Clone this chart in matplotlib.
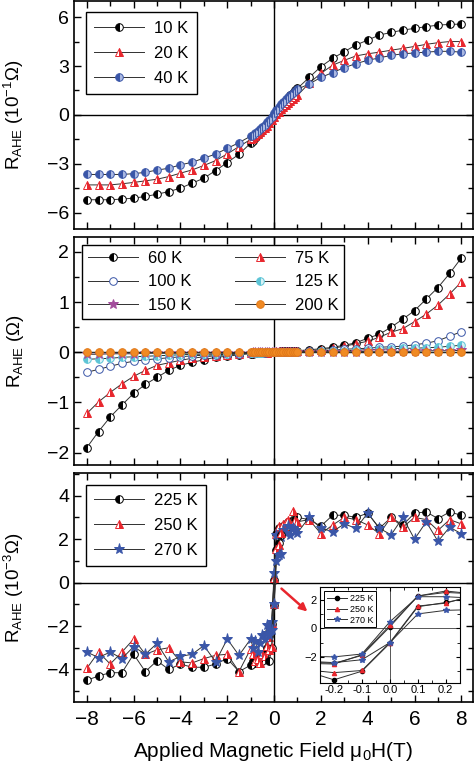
import numpy as np
import matplotlib
matplotlib.use("Agg")
import matplotlib.pyplot as plt
from matplotlib.ticker import MultipleLocator

plt.rcParams["font.family"] = ["Liberation Sans", "DejaVu Sans"]
plt.rcParams["mathtext.fontset"] = "custom"
plt.rcParams["mathtext.rm"] = "Liberation Sans"
plt.rcParams["mathtext.it"] = "Liberation Sans:italic"

# field values (T) shared by all three panels
FIELD = [-8.0, -7.5, -7.0, -6.5, -6.0, -5.5, -5.0, -4.5, -4.0, -3.5, -3.0, -2.5, -2.0, -1.5,
         -1.0, -0.9, -0.8, -0.7, -0.6, -0.5, -0.4, -0.3, -0.2, -0.1, 0.0,
         0.1, 0.2, 0.3, 0.4, 0.5, 0.6, 0.7, 0.8, 0.9, 1.0,
         1.5, 2.0, 2.5, 3.0, 3.5, 4.0, 4.5, 5.0, 5.5, 6.0, 6.5, 7.0, 7.5, 8.0]

# top panel, units of 0.1 ohm
R_10K = [-5.2, -5.2, -5.2, -5.16, -5.1, -5.0, -4.86, -4.7, -4.49, -4.18, -3.88, -3.41, -2.92, -2.41,
         -1.73, -1.58, -1.42, -1.26, -1.1, -0.93, -0.76, -0.58, -0.4, -0.22, 0.0,
         0.2, 0.38, 0.55, 0.72, 0.88, 1.04, 1.2, 1.35, 1.5, 1.63,
         2.3, 2.96, 3.47, 3.88, 4.29, 4.59, 4.9, 5.06, 5.2, 5.31, 5.41, 5.51, 5.55, 5.57]
R_20K = [-4.29, -4.29, -4.29, -4.22, -4.14, -4.04, -3.94, -3.78, -3.57, -3.37, -3.1, -2.8, -2.39, -1.94,
         -1.5, -1.4, -1.3, -1.18, -1.06, -0.94, -0.8, -0.66, -0.5, -0.34, -0.15,
         0.05, 0.2, 0.35, 0.5, 0.63, 0.76, 0.88, 1.0, 1.1, 1.2,
         1.95, 2.55, 3.05, 3.35, 3.62, 3.75, 3.85, 3.97, 4.08, 4.2, 4.33, 4.43, 4.5, 4.5]
R_40K = [-3.65, -3.65, -3.65, -3.65, -3.6, -3.52, -3.38, -3.27, -3.06, -2.9, -2.65, -2.4, -2.05, -1.7,
         -1.3, -1.2, -1.1, -1.0, -0.88, -0.76, -0.62, -0.46, -0.3, -0.12, 0.1,
         0.3, 0.48, 0.65, 0.8, 0.95, 1.1, 1.24, 1.37, 1.48, 1.58,
         1.9, 2.3, 2.6, 2.9, 3.15, 3.35, 3.5, 3.65, 3.75, 3.8, 3.85, 3.9, 3.9, 3.85]

# middle panel, ohm
R_60K = [-1.9, -1.58, -1.29, -1.05, -0.82, -0.64, -0.5, -0.36, -0.26, -0.2, -0.15, -0.1, -0.08, -0.05,
         -0.03, -0.03, -0.02, -0.02, -0.02, -0.02, -0.01, -0.01, -0.01, 0.0, 0.0,
         0.01, 0.01, 0.02, 0.02, 0.02, 0.02, 0.02, 0.02, 0.03, 0.03,
         0.05, 0.07, 0.1, 0.14, 0.19, 0.28, 0.36, 0.5, 0.66, 0.83, 1.06, 1.29, 1.57, 1.88]
R_75K = [-1.22, -0.99, -0.8, -0.63, -0.48, -0.36, -0.26, -0.21, -0.16, -0.12, -0.09, -0.07, -0.05, -0.03,
         -0.02, -0.02, -0.02, -0.02, -0.01, -0.01, -0.01, -0.01, 0.0, 0.0, 0.0,
         0.02, 0.02, 0.03, 0.03, 0.03, 0.03, 0.03, 0.03, 0.03, 0.03,
         0.03, 0.05, 0.08, 0.12, 0.17, 0.22, 0.3, 0.4, 0.47, 0.61, 0.76, 0.94, 1.16, 1.4]
R_100K = [-0.4, -0.34, -0.28, -0.22, -0.18, -0.15, -0.13, -0.11, -0.09, -0.07, -0.06, -0.05, -0.04, -0.03,
          -0.02, -0.02, -0.02, -0.01, -0.01, -0.01, -0.01, 0.0, 0.0, 0.0, 0.0,
          0.0, 0.0, 0.0, 0.01, 0.01, 0.01, 0.01, 0.01, 0.01, 0.01,
          0.02, 0.03, 0.04, 0.06, 0.07, 0.08, 0.1, 0.11, 0.12, 0.15, 0.18, 0.23, 0.32, 0.41]
R_125K = [-0.14, -0.13, -0.12, -0.1, -0.09, -0.08, -0.07, -0.06, -0.05, -0.04, -0.04, -0.03, -0.03, -0.02,
          -0.02, -0.01, -0.01, -0.01, -0.01, -0.01, 0.0, 0.0, 0.0, 0.0, 0.0,
          0.0, 0.0, 0.0, 0.0, 0.01, 0.01, 0.01, 0.01, 0.01, 0.01,
          0.01, 0.02, 0.02, 0.03, 0.04, 0.05, 0.06, 0.07, 0.08, 0.08, 0.09, 0.1, 0.12, 0.14]
R_150K = [-0.04, -0.04, -0.03, -0.03, -0.03, -0.02, -0.02, -0.02, -0.02, -0.01, -0.01, -0.01, -0.01, -0.01,
          -0.01, 0.0, 0.0, 0.0, 0.0, 0.0, 0.0, 0.0, 0.0, 0.0, 0.0,
          0.0, 0.0, 0.0, 0.0, 0.0, 0.0, 0.0, 0.0, 0.0, 0.01,
          0.01, 0.01, 0.01, 0.01, 0.01, 0.02, 0.02, 0.02, 0.02, 0.02, 0.03, 0.03, 0.03, 0.04]
R_200K = [0.0, 0.0, 0.0, 0.0, 0.0, 0.0, 0.0, 0.0, 0.0, 0.0, 0.0, 0.0, 0.0, 0.0,
          0.0, 0.0, 0.0, 0.0, 0.0, 0.0, 0.0, 0.0, 0.0, 0.0, 0.0,
          0.0, 0.0, 0.0, 0.0, 0.0, 0.0, 0.0, 0.0, 0.0, 0.0,
          0.0, 0.0, 0.0, 0.0, 0.0, 0.0, 0.0, 0.0, 0.0, 0.0, 0.0, 0.0, 0.0, 0.0]

# bottom panel, units of 1e-3 ohm
R_225K = [-4.5, -4.3, -4.15, -4.15, -3.3, -4.1, -3.6, -4.0, -3.75, -3.9, -3.9, -3.75, -3.5, -4.1,
          -3.8, -3.6, -3.7, -3.5, -3.4, -3.6, -3.3, -2.35, -2.45, -1.9, 0.1,
          2.25, 2.5, 2.4, 2.6, 2.7, 2.8, 2.6, 2.9, 2.7, 3.0,
          2.9, 2.6, 3.1, 3.1, 3.0, 3.2, 2.5, 3.0, 2.65, 3.2, 3.25, 2.95, 3.25, 3.1]
R_250K = [-3.95, -3.2, -3.75, -3.2, -2.6, -3.3, -3.1, -3.0, -3.65, -3.7, -3.5, -3.35, -3.3, -4.1,
          -3.05, -3.3, -3.6, -3.5, -3.7, -3.3, -3.4, -2.45, -2.5, -1.85, 0.2,
          2.25, 2.6, 2.4, 2.7, 2.8, 2.9, 2.6, 3.3, 2.9, 2.8,
          2.9, 2.25, 2.65, 3.0, 2.9, 2.65, 2.25, 3.0, 2.55, 3.0, 2.9, 2.4, 2.9, 2.7]
R_270K = [-3.2, -3.45, -3.2, -3.5, -2.95, -3.3, -2.8, -3.65, -3.4, -3.3, -2.9, -3.65, -2.6, -3.35,
          -2.6, -3.0, -2.7, -3.2, -2.8, -2.4, -2.6, -1.95, -2.0, -1.8, 0.45,
          2.2, 2.2, 2.1, 2.4, 2.3, 2.6, 2.2, 2.5, 2.4, 2.3,
          3.0, 2.5, 2.35, 2.7, 2.5, 3.2, 2.5, 2.2, 3.0, 2.0, 2.8, 1.9, 2.55, 2.25]

# return sweep near zero field (seen in the inset)
FIELD_RET = [-0.3, -0.2, -0.1, 0.0, 0.1, 0.2, 0.3]
R_225K_RET = [-3.0, -3.6, -3.0, -1.05, 1.5, 1.8, 2.2]
R_250K_RET = [-2.9, -3.1, -2.95, -1.0, 1.55, 1.75, 2.3]
R_270K_RET = [-2.3, -2.4, -2.2, -1.0, 1.0, 1.25, 1.3]

RED = "#e8262d"
BLUE = "#3a56a8"
CYAN = "#5cc4d6"
PURPLE = "#a34c9c"
ORANGE = "#f08a24"
LINE = "#303030"


def series(ax, x, y, label, marker, face, alt, edge, fill="full", ms=5.5, lw=0.7, mew=0.7):
    ax.plot(x, y, color=LINE, lw=lw, marker=marker, ms=ms, mfc=face, mfcalt=alt,
            mec=edge, mew=mew, fillstyle=fill, label=label)


def style_axis(ax):
    ax.tick_params(which="both", direction="in", top=True, right=True, labelsize=14, width=1.0)
    ax.tick_params(which="major", length=5)
    ax.tick_params(which="minor", length=3.5)
    for s in ax.spines.values():
        s.set_linewidth(1.2)
    ax.axhline(0, color="black", lw=1.0, zorder=0)
    ax.axvline(0, color="black", lw=1.0, zorder=0)
    ax.set_xlim(-8.55, 8.5)
    ax.xaxis.set_major_locator(MultipleLocator(2))
    ax.xaxis.set_minor_locator(MultipleLocator(1))


def legend(ax, **kw):
    lg = ax.legend(loc="upper left", fontsize=12, handlelength=3.0, fancybox=False,
                   edgecolor="black", framealpha=1, borderpad=0.5, labelspacing=0.6,
                   handletextpad=0.6, borderaxespad=0.7, **kw)
    lg.get_frame().set_linewidth(1.0)
    return lg


fig = plt.figure(figsize=(4.74, 7.74), dpi=100)
L, W = 0.156, 0.842
ax1 = fig.add_axes([L, 0.704, W, 0.295])
ax2 = fig.add_axes([L, 0.399, W, 0.295])
ax3 = fig.add_axes([L, 0.093, W, 0.296])

# top
series(ax1, FIELD, R_10K, "10 K", "o", "black", "white", "black", fill="left")
series(ax1, FIELD, R_20K, "20 K", "^", RED, "white", RED, fill="right")
series(ax1, FIELD, R_40K, "40 K", "o", BLUE, "#aab8e2", BLUE, fill="left")
style_axis(ax1)
ax1.set_ylim(-7, 7)
ax1.yaxis.set_major_locator(MultipleLocator(3))
ax1.yaxis.set_minor_locator(MultipleLocator(1.5))
ax1.tick_params(labelbottom=False)
ax1.set_ylabel(r"R$_\mathrm{AHE}$ (10$^\mathrm{-1}$$\Omega$)", fontsize=13.5)
legend(ax1)

# middle
series(ax2, FIELD, R_60K, "60 K", "o", "black", "white", "black", fill="left")
series(ax2, FIELD, R_75K, "75 K", "^", RED, "white", RED, fill="right")
series(ax2, FIELD, R_100K, "100 K", "o", "white", "white", BLUE)
series(ax2, FIELD, R_125K, "125 K", "o", CYAN, "#d8f2f6", CYAN, fill="left")
series(ax2, FIELD, R_150K, "150 K", "*", PURPLE, PURPLE, PURPLE, ms=7)
series(ax2, FIELD, R_200K, "200 K", "o", ORANGE, ORANGE, "#e07818")
style_axis(ax2)
ax2.set_ylim(-2.25, 2.3)
ax2.yaxis.set_major_locator(MultipleLocator(1))
ax2.yaxis.set_minor_locator(MultipleLocator(0.5))
ax2.tick_params(labelbottom=False)
ax2.set_ylabel(r"R$_\mathrm{AHE}$ ($\Omega$)", fontsize=13.5)
h, l = ax2.get_legend_handles_labels()
order = [0, 2, 4, 1, 3, 5]
lg2 = ax2.legend([h[i] for i in order], [l[i] for i in order], ncol=2, loc="upper left",
                 fontsize=12, handlelength=3.0, fancybox=False, edgecolor="black",
                 framealpha=1, borderpad=0.35, labelspacing=0.5, handletextpad=0.6,
                 columnspacing=2.6, borderaxespad=0.5)
lg2.get_frame().set_linewidth(1.0)

# bottom
series(ax3, FIELD, R_225K, "225 K", "o", "black", "white", "black", fill="left")
series(ax3, FIELD, R_250K, "250 K", "^", RED, "white", RED, fill="right")
series(ax3, FIELD, R_270K, "270 K", "*", BLUE, BLUE, BLUE, ms=8)
series(ax3, FIELD_RET, R_225K_RET, None, "o", "black", "white", "black", fill="left")
series(ax3, FIELD_RET, R_250K_RET, None, "^", RED, "white", RED, fill="right")
series(ax3, FIELD_RET, R_270K_RET, None, "*", BLUE, BLUE, BLUE, ms=8)
style_axis(ax3)
ax3.set_ylim(-5.5, 5.05)
ax3.yaxis.set_major_locator(MultipleLocator(2))
ax3.yaxis.set_minor_locator(MultipleLocator(1))
ax3.tick_params(axis="x", labelsize=15, pad=6)
ax3.set_ylabel(r"R$_\mathrm{AHE}$ (10$^\mathrm{-3}$$\Omega$)", fontsize=13.5)
ax3.set_xlabel(r"Applied Magnetic Field $\mathrm{\mu_0}$H(T)", fontsize=15, labelpad=8)
legend(ax3)

for ax in (ax1, ax2, ax3):
    ax.yaxis.set_label_coords(-0.12, 0.5)

ax3.annotate("", xy=(0.585, 0.395), xytext=(0.52, 0.495), xycoords="axes fraction",
             arrowprops=dict(arrowstyle="-|>", color=RED, lw=1.8, mutation_scale=11,
                             shrinkA=0, shrinkB=0))

# inset
axi = fig.add_axes([0.675, 0.118, 0.295, 0.124])
for x, y, lab, mk, c, ms in [(FIELD, R_225K, "225 K", "o", "black", 3),
                             (FIELD, R_250K, "250 K", "^", RED, 3),
                             (FIELD, R_270K, "270 K", "*", BLUE, 4)]:
    axi.plot(x, y, color=LINE, lw=0.7, marker=mk, ms=ms, mfc=c, mec=c, label=lab)
for x, y, mk, c, ms in [(FIELD_RET, R_225K_RET, "o", "black", 3),
                        (FIELD_RET, R_250K_RET, "^", RED, 3),
                        (FIELD_RET, R_270K_RET, "*", BLUE, 4)]:
    axi.plot(x, y, color=LINE, lw=0.7, marker=mk, ms=ms, mfc=c, mec=c)
axi.axhline(0, color="#555555", lw=0.7, zorder=0)
axi.axvline(0, color="#555555", lw=0.7, zorder=0)
axi.set_xlim(-0.25, 0.25)
axi.set_ylim(-3.8, 2.9)
axi.xaxis.set_minor_locator(MultipleLocator(0.05))
axi.yaxis.set_major_locator(MultipleLocator(2))
axi.yaxis.set_minor_locator(MultipleLocator(1))
axi.set_xticks([-0.2, -0.1, 0.0, 0.1, 0.2])
axi.set_xticklabels(["-0.2", "-0.1", "0.0", "0.1", "0.2"])
axi.tick_params(which="both", direction="in", top=True, right=True, labelsize=8, pad=2)
axi.tick_params(which="major", length=3)
axi.tick_params(which="minor", length=2)
for s in axi.spines.values():
    s.set_linewidth(0.8)
lgi = axi.legend(loc="upper left", fontsize=6.5, handlelength=2.2, fancybox=False,
                 edgecolor="black", framealpha=1, borderpad=0.3, labelspacing=0.2,
                 handletextpad=0.3)
lgi.get_frame().set_linewidth(0.7)

fig.savefig("out.png", dpi=100)
